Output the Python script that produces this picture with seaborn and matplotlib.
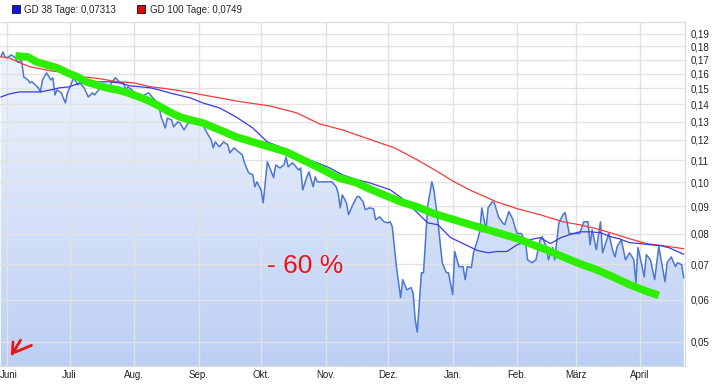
import numpy as np
import pandas as pd
import matplotlib
matplotlib.use("Agg")
import matplotlib.pyplot as plt
import seaborn as sns
from matplotlib.colors import LinearSegmentedColormap
from matplotlib.lines import Line2D
from matplotlib.ticker import FixedLocator, NullLocator
from matplotlib.transforms import ScaledTranslation

# --- data (days counted from 1 June) ---
start = pd.Timestamp("2022-06-01")

kurs_tage = [-3, -2, -1, 0, 2, 4, 5, 7, 8, 10, 11, 12, 15, 16, 17, 19, 21, 22, 23, 24,
             26, 28, 29, 31, 32, 34, 35, 37, 39, 41, 42, 44, 46, 47, 49, 50, 52, 54, 56, 57,
             58, 60, 61, 63, 65, 66, 68, 70, 71, 73, 74, 76, 77, 79, 80, 82, 83, 85, 87, 89,
             91, 94, 96, 98, 99, 100, 102, 104, 106, 107, 109, 110, 113, 114, 116, 118, 119, 120, 122, 123,
             125, 126, 128, 129, 131, 133, 134, 135, 137, 138, 140, 141, 142, 144, 145, 147, 148, 149, 151, 154,
             156, 158, 159, 160, 161, 163, 164, 166, 168, 169, 171, 172, 174, 176, 177, 179, 181, 183, 184, 185,
             187, 189, 190, 192, 194, 195, 196, 197, 199, 200, 202, 204, 205, 207, 209, 211, 212, 214, 215, 217,
             219, 220, 221, 223, 224, 226, 227, 228, 230, 231, 233, 234, 236, 238, 239, 241, 243, 244, 245, 247,
             249, 250, 252, 254, 256, 257, 259, 260, 262, 263, 265, 267, 268, 270, 273, 275, 277, 279, 280, 281,
             283, 285, 286, 289, 291, 292, 293, 295, 297, 299, 301, 302, 303, 305, 306, 307, 309, 311, 313, 315,
             316, 317, 319, 321, 322, 324, 325]
kurs = [0.1720, 0.1757, 0.1720, 0.1713, 0.1735, 0.1713, 0.1684, 0.1691, 0.1577, 0.1557,
        0.1537, 0.1544, 0.1504, 0.1478, 0.1557, 0.1605, 0.1557, 0.1571, 0.1459, 0.1491,
        0.1472, 0.1409, 0.1472, 0.1537, 0.1571, 0.1524, 0.1537, 0.1504, 0.1446, 0.1472,
        0.1459, 0.1491, 0.1511, 0.1504, 0.1491, 0.1537, 0.1571, 0.1544, 0.1537, 0.1491,
        0.1511, 0.1491, 0.1459, 0.1440, 0.1446, 0.1459, 0.1472, 0.1440, 0.1428, 0.1385,
        0.1326, 0.1264, 0.1320, 0.1309, 0.1270, 0.1298, 0.1292, 0.1254, 0.1292, 0.1309,
        0.1292, 0.1281, 0.1238, 0.1201, 0.1160, 0.1190, 0.1165, 0.1190, 0.1175, 0.1135,
        0.1160, 0.1150, 0.1125, 0.1087, 0.1041, 0.1032, 0.0980, 0.1001, 0.0967, 0.0914,
        0.1092, 0.1068, 0.1019, 0.1077, 0.1063, 0.1077, 0.1115, 0.1068, 0.1087, 0.1077,
        0.1054, 0.1063, 0.0967, 0.1023, 0.1045, 0.0980, 0.1023, 0.1001, 0.1001, 0.1001,
        0.1001, 0.0980, 0.0954, 0.0894, 0.0946, 0.0914, 0.0868, 0.0906, 0.0938, 0.0940,
        0.0918, 0.0887, 0.0894, 0.0891, 0.0849, 0.0860, 0.0842, 0.0838, 0.0842, 0.0824,
        0.0693, 0.0606, 0.0655, 0.0627, 0.0633, 0.0619, 0.0551, 0.0522, 0.0675, 0.0675,
        0.0902, 0.1001, 0.0967, 0.0838, 0.0705, 0.0675, 0.0675, 0.0614, 0.0740, 0.0693,
        0.0693, 0.0655, 0.0693, 0.0690, 0.0736, 0.0779, 0.0806, 0.0894, 0.0813, 0.0894,
        0.0918, 0.0914, 0.0860, 0.0838, 0.0831, 0.0880, 0.0849, 0.0820, 0.0800, 0.0800,
        0.0772, 0.0714, 0.0705, 0.0714, 0.0779, 0.0789, 0.0756, 0.0714, 0.0753, 0.0714,
        0.0838, 0.0868, 0.0876, 0.0800, 0.0800, 0.0800, 0.0842, 0.0842, 0.0762, 0.0813,
        0.0746, 0.0842, 0.0736, 0.0800, 0.0740, 0.0723, 0.0756, 0.0779, 0.0714, 0.0736,
        0.0714, 0.0647, 0.0753, 0.0693, 0.0663, 0.0730, 0.0714, 0.0655, 0.0756, 0.0684,
        0.0649, 0.0705, 0.0723, 0.0693, 0.0705, 0.0699, 0.0660]

gd38_tage = [-3, 1, 6, 11, 16, 21, 25, 30, 35, 40, 45, 49, 54, 59, 64, 69, 73, 78, 88, 94,
             102, 110, 118, 125, 131, 136, 142, 149, 155, 161, 168, 174, 184, 190, 197, 202, 207, 213, 219, 226,
             231, 235, 240, 245, 251, 256, 261, 266, 270, 275, 280, 285, 290, 294, 299, 304, 309, 314, 318, 325]
gd38 = [0.1446, 0.1465, 0.1478, 0.1478, 0.1478, 0.1491, 0.1504, 0.1511, 0.1537, 0.1544,
        0.1544, 0.1544, 0.1537, 0.1517, 0.1511, 0.1504, 0.1491, 0.1472, 0.1440, 0.1409,
        0.1379, 0.1326, 0.1264, 0.1190, 0.1165, 0.1140, 0.1110, 0.1087, 0.1063, 0.1032,
        0.1010, 0.0997, 0.0967, 0.0930, 0.0876, 0.0838, 0.0831, 0.0786, 0.0766, 0.0743,
        0.0736, 0.0740, 0.0740, 0.0762, 0.0779, 0.0786, 0.0766, 0.0786, 0.0796, 0.0806,
        0.0806, 0.0803, 0.0789, 0.0782, 0.0769, 0.0766, 0.0762, 0.0759, 0.0752, 0.07313]

gd100_tage = [-3, 1, 6, 11, 16, 21, 29, 37, 45, 53, 61, 69, 77, 83, 94, 110, 126, 139, 150, 161,
              171, 186, 197, 207, 214, 222, 235, 245, 256, 261, 267, 275, 283, 291, 299, 307, 315, 325]
gd100 = [0.1720, 0.1713, 0.1677, 0.1648, 0.1634, 0.1619, 0.1605, 0.1577, 0.1564, 0.1544,
         0.1537, 0.1511, 0.1498, 0.1485, 0.1459, 0.1421, 0.1391, 0.1350, 0.1287, 0.1254,
         0.1215, 0.1160, 0.1101, 0.1045, 0.1005, 0.0967, 0.0918, 0.0891, 0.0868, 0.0856,
         0.0842, 0.0831, 0.0817, 0.0800, 0.0782, 0.0766, 0.0759, 0.0749]

# hand-drawn green trend line
trend_tage = [4, 10, 14, 19, 24, 29, 34, 38, 43, 48, 53, 58, 62, 67, 72, 78, 83, 88, 94, 102,
              110, 118, 126, 134, 142, 150, 159, 168, 173, 181, 189, 197, 205, 213, 221, 229, 237, 245, 256, 259,
              267, 275, 283, 291, 299, 307, 313]
trend = [0.1728, 0.1720, 0.1684, 0.1662, 0.1641, 0.1605, 0.1577, 0.1544, 0.1524, 0.1504,
         0.1491, 0.1472, 0.1453, 0.1428, 0.1397, 0.1355, 0.1326, 0.1309, 0.1292, 0.1254,
         0.1216, 0.1190, 0.1165, 0.1140, 0.1101, 0.1063, 0.1019, 0.0997, 0.0975, 0.0946,
         0.0918, 0.0898, 0.0872, 0.0853, 0.0835, 0.0817, 0.0800, 0.0783, 0.0753, 0.0746,
         0.0723, 0.0702, 0.0684, 0.0663, 0.0641, 0.0623, 0.0612]

monate = ["Juni", "Juli", "Aug.", "Sep.", "Okt.", "Nov.", "Dez.", "Jan.", "Feb.", "März", "April"]
monat_start = pd.date_range("2022-06-01", periods=11, freq="MS")
y_ticks = [0.05, 0.06, 0.07, 0.08, 0.09, 0.10, 0.11, 0.12, 0.13, 0.14, 0.15, 0.16, 0.17, 0.18, 0.19]
legende = ["GD 38 Tage: 0,07313", "GD 100 Tage: 0,0749"]


def to_dates(tage):
    return start + pd.to_timedelta(tage, unit="D")


df_kurs = pd.DataFrame({"datum": to_dates(kurs_tage), "wert": kurs})
df_gd38 = pd.DataFrame({"datum": to_dates(gd38_tage), "wert": gd38})
df_gd100 = pd.DataFrame({"datum": to_dates(gd100_tage), "wert": gd100})
df_trend = pd.DataFrame({"datum": to_dates(trend_tage), "wert": trend})

sns.set_style("white")
plt.rcParams["font.family"] = ["Liberation Sans", "DejaVu Sans"]

fig = plt.figure(figsize=(7.17, 3.88), dpi=100)
ax = fig.add_axes([0.0, 0.0567, 0.9554, 0.8866])
ax.set_yscale("log")
x0 = start - pd.Timedelta(days=3.4)
x1 = start + pd.Timedelta(days=325.6)
ymin, ymax = 0.04506, 0.2001
ax.set_xlim(x0, x1)
ax.set_ylim(ymin, ymax)

# gradient area under the price
poly = ax.fill_between(df_kurs["datum"], df_kurs["wert"], ymin, color="none", lw=0)
cmap = LinearSegmentedColormap.from_list("blau", ["#bccff4", "#f5f8fe"])
grad = np.linspace(0, 1, 256).reshape(-1, 1)
im = ax.imshow(grad, extent=[0, 1, 0, 1], transform=ax.transAxes, origin="lower",
               aspect="auto", cmap=cmap, zorder=0.5)
im.set_clip_path(poly.get_paths()[0], transform=ax.transData)

sns.lineplot(data=df_kurs, x="datum", y="wert", ax=ax, color="#4a77d0", lw=1.1,
             estimator=None, sort=False, zorder=3)
sns.lineplot(data=df_gd100, x="datum", y="wert", ax=ax, color="#f23a3a", lw=0.9,
             estimator=None, sort=False, zorder=4)
sns.lineplot(data=df_gd38, x="datum", y="wert", ax=ax, color="#3a3ae6", lw=0.9,
             estimator=None, sort=False, zorder=4)
sns.lineplot(data=df_trend, x="datum", y="wert", ax=ax, color="#2cef00", lw=5.5,
             estimator=None, sort=False, zorder=5, solid_capstyle="butt")

# axes styling
ax.yaxis.tick_right()
ax.yaxis.set_major_locator(FixedLocator(y_ticks))
ax.yaxis.set_minor_locator(NullLocator())
ax.set_yticklabels([f"{v:.2f}".replace(".", ",") for v in y_ticks])
ax.set_xticks(monat_start)
ax.set_xticklabels(monate)
ax.tick_params(axis="both", length=0, labelsize=7, colors="#222222", pad=3)
ax.tick_params(axis="y", pad=4)
for lab in ax.get_xticklabels():
    lab.set_family(["Liberation Sans Narrow", "Liberation Sans"])
# first month label sits at the very left edge
erste = ax.get_xticklabels()[0]
erste.set_ha("left")
erste.set_transform(erste.get_transform() + ScaledTranslation(-0.07, 0, fig.dpi_scale_trans))
ax.grid(True, color="#e2e2e2", lw=1)
ax.set_axisbelow(True)
ax.set_xlabel("")
ax.set_ylabel("")
for s in ["top", "right", "bottom"]:
    ax.spines[s].set_color("#dddddd")
    ax.spines[s].set_linewidth(1)
ax.spines["left"].set_visible(False)

# legend
handles = [Line2D([], [], ls="", marker="s", ms=6, mfc="#1414e6", mec="#222222", mew=0.7),
           Line2D([], [], ls="", marker="s", ms=6, mfc="#e60000", mec="#222222", mew=0.7)]
fig.legend(handles, legende, loc="upper left", bbox_to_anchor=(0.004, 1.01), ncol=2,
           frameon=False, fontsize=7, handlelength=0.8, handletextpad=0.5, columnspacing=2.2)

# handwritten notes
ax.text(0.445, 0.29, "- 60 %", transform=ax.transAxes, color="#e8141c",
        fontsize=19, ha="center", va="center", zorder=6)
ax.plot([0.019, 0.018, 0.030], [0.070, 0.035, 0.075], transform=ax.transAxes,
        color="#e8141c", lw=2, zorder=6)
ax.plot([0.022, 0.046], [0.040, 0.060], transform=ax.transAxes, color="#e8141c", lw=2, zorder=6)

fig.savefig("out.png", dpi=100)
